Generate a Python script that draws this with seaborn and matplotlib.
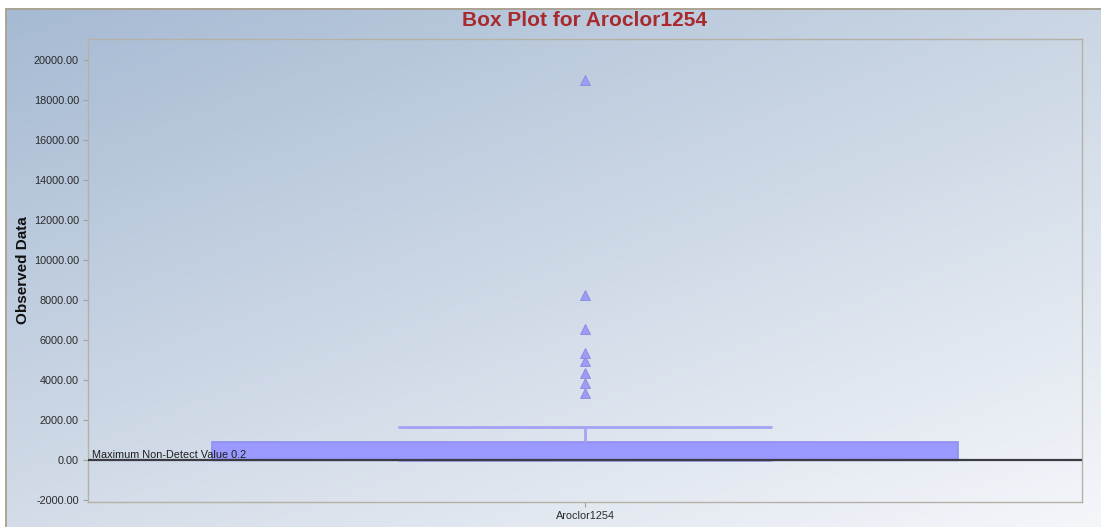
import numpy as np
import pandas as pd
import matplotlib
matplotlib.use("Agg")
import matplotlib.pyplot as plt
from matplotlib.colors import to_rgb
from matplotlib.lines import Line2D
import seaborn as sns

# Observed concentrations for Aroclor1254 (non-detects reported at 0.2)
analyte = "Aroclor1254"
non_detects = [0.2] * 21
detects = [12.0, 35.0, 80.0, 150.0, 240.0, 380.0, 520.0, 710.0,
           900.0, 980.0, 1650.0,
           3335.0, 3835.0, 4335.0, 4950.0, 5365.0, 6565.0, 8250.0, 19000.0]
max_non_detect = 0.2

y_ticks = list(range(-2000, 20001, 2000))
y_limits = (-2100, 21050)

observed = non_detects + detects
df = pd.DataFrame({"Analyte": [analyte] * len(observed), "Observed": observed})

sns.set_theme(style="white")
plt.rcParams["font.family"] = ["Liberation Sans", "DejaVu Sans"]

W, H = 1101, 527
fig = plt.figure(figsize=(W / 100, H / 100), dpi=100)
fig.patch.set_facecolor("white")

# Diagonal gradient backdrop behind the whole chart
bg = fig.add_axes([6 / W, 0, (W - 6) / W, (H - 8) / H], zorder=0)
c_tl, c_tr = np.array(to_rgb("#A6BAD3")), np.array(to_rgb("#CAD6E4"))
c_bl, c_br = np.array(to_rgb("#D3DCE8")), np.array(to_rgb("#F4F6FA"))
nx, ny = 220, 110
u = np.linspace(0, 1, nx)[None, :, None]
v = np.linspace(0, 1, ny)[:, None, None]
grad = (c_tl * (1 - u) * (1 - v) + c_tr * u * (1 - v)
        + c_bl * (1 - u) * v + c_br * u * v)
bg.imshow(grad, aspect="auto", extent=(0, 1, 0, 1), origin="upper",
          interpolation="bilinear")
bg.set_xlim(0, 1)
bg.set_ylim(0, 1)
bg.axis("off")

# Chart border along the top and left edges
x0, y0 = 6.5 / W, 1 - 8.5 / H
fig.add_artist(Line2D([x0, 1], [y0, y0], transform=fig.transFigure,
                      color="#ABA493", linewidth=1.4, zorder=1))
fig.add_artist(Line2D([x0, x0], [0, y0], transform=fig.transFigure,
                      color="#ABA493", linewidth=1.4, zorder=1))

ax = fig.add_axes([88 / W, 25 / H, 994 / W, 463 / H], zorder=2)
ax.patch.set_alpha(0)

box_fill = "#9999FF"
box_line = "#8F8FEE"
sns.boxplot(
    data=df, x="Analyte", y="Observed", ax=ax,
    width=0.75, whis=1.5, saturation=1,
    color=box_fill, linecolor=box_line, linewidth=1.2,
    boxprops=dict(facecolor=box_fill, edgecolor=box_line),
    whiskerprops=dict(color="#A3A3F5", linewidth=2),
    capprops=dict(color="#A3A3F5", linewidth=2),
    medianprops=dict(color=box_line, linewidth=1),
    flierprops=dict(marker="^", markerfacecolor="#9C9CF4",
                    markeredgecolor="#8888E0", markersize=7.5,
                    markeredgewidth=0.6),
)

ax.axhline(0, color="#3C3C44", linewidth=1.6, zorder=5)
ax.text(0.004, max_non_detect, f"Maximum Non-Detect Value {max_non_detect}",
        transform=ax.get_yaxis_transform(), ha="left", va="bottom",
        fontsize=7.8, color="#1E1E1E", zorder=6)

ax.set_xlim(-0.5, 0.5)
ax.set_ylim(*y_limits)
ax.set_yticks(y_ticks)
ax.set_yticklabels([f"{t:.2f}" for t in y_ticks])
ax.set_xticks([0])
ax.set_xticklabels([analyte])
ax.tick_params(axis="both", labelsize=7.8, labelcolor="#2A2A2A",
               color="#A0A0A0", length=3.5, width=0.8, direction="out",
               left=True, bottom=True, pad=3)
ax.set_xlabel("")
ax.set_ylabel("Observed Data", fontsize=11, fontweight="bold",
              color="#111111")
ax.yaxis.set_label_coords(-58 / 994, 0.5)
for s in ax.spines.values():
    s.set_color("#B5B1A6")
    s.set_linewidth(1.0)

fig.text(585 / W, 1 - 20 / H, "Box Plot for Aroclor1254", ha="center",
         va="center", fontsize=15, fontweight="bold", color="#A82A2C")

fig.savefig("out.png", dpi=100)
